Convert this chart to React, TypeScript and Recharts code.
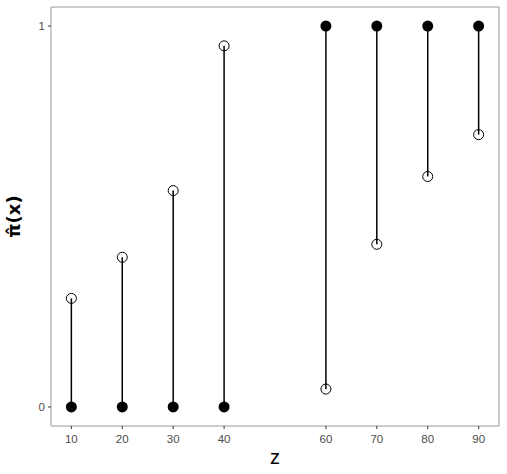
import {
  ComposedChart,
  ReferenceArea,
  ReferenceLine,
  Scatter,
  XAxis,
  YAxis,
} from "recharts";

const zValues = [10, 20, 30, 40, 60, 70, 80, 90];
const observed = [0, 0, 0, 0, 1, 1, 1, 1];
const fitted = [0.285, 0.393, 0.568, 0.948, 0.047, 0.427, 0.605, 0.715];
const xTicks = [10, 20, 30, 40, 60, 70, 80, 90];
const yTicks = [0, 1];

const obsData = zValues.map((z, i) => ({ z, y: observed[i] }));
const fitData = zValues.map((z, i) => ({ z, y: fitted[i] }));

const font = "'Liberation Sans', Arial, sans-serif";
const tickStyle = { fill: "#4d4d4d", fontSize: 11.5, fontFamily: font };

const FilledDot = (props: any) => (
  <circle cx={props.cx} cy={props.cy} r={5.5} fill="#000" />
);
const OpenDot = (props: any) => (
  <circle cx={props.cx} cy={props.cy} r={5} fill="none" stroke="#000" strokeWidth={1} />
);

export default function App() {
  return (
    <div style={{ position: "absolute", left: 0, top: 0 }}>
      <ComposedChart
        width={507}
        height={474}
        margin={{ top: 7, right: 8, left: 0, bottom: 0 }}
      >
        <XAxis
          dataKey="z"
          type="number"
          domain={[6, 94]}
          ticks={xTicks}
          allowDataOverflow
          height={48}
          axisLine={false}
          tickSize={3}
          tickMargin={6}
          tickLine={{ stroke: "#333" }}
          tick={tickStyle}
          label={{
            value: "z",
            position: "insideBottom",
            offset: 10,
            style: { fill: "#000", fontSize: 20, fontFamily: font },
          }}
        />
        <YAxis
          dataKey="y"
          type="number"
          domain={[-0.05, 1.05]}
          ticks={yTicks}
          allowDataOverflow
          width={51}
          axisLine={false}
          tickSize={3}
          tickMargin={3}
          tickLine={{ stroke: "#333" }}
          tick={tickStyle}
          label={{
            value: "π̂(x)",
            angle: -90,
            position: "insideLeft",
            offset: 14,
            style: {
              fill: "#000",
              fontSize: 18,
              fontWeight: "bold",
              fontFamily: "'DejaVu Sans', sans-serif",
              textAnchor: "middle",
            },
          }}
        />
        <ReferenceArea
          x1={6}
          x2={94}
          y1={-0.05}
          y2={1.05}
          fill="none"
          stroke="#999"
          strokeWidth={1}
          ifOverflow="visible"
        />
        {zValues.map((z, i) => (
          <ReferenceLine
            key={z}
            segment={[
              { x: z, y: observed[i] },
              { x: z, y: fitted[i] },
            ]}
            stroke="#000"
            strokeWidth={1.5}
          />
        ))}
        <Scatter data={fitData} shape={OpenDot} isAnimationActive={false} />
        <Scatter data={obsData} shape={FilledDot} isAnimationActive={false} />
      </ComposedChart>
    </div>
  );
}
